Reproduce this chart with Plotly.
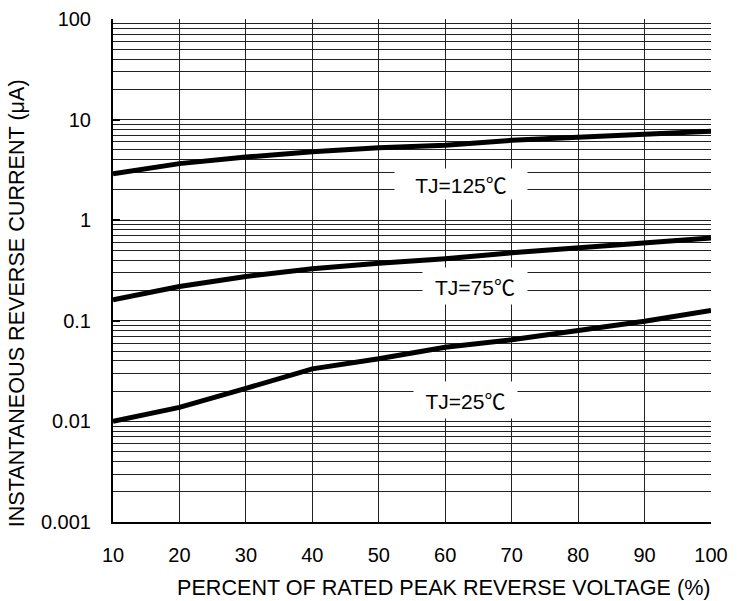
import plotly.graph_objects as go

# Data
voltage_pct = [10, 20, 30, 40, 50, 60, 70, 80, 90, 100]
ir_125 = [2.90, 3.65, 4.24, 4.80, 5.26, 5.55, 6.22, 6.71, 7.26, 7.65]
ir_75 = [0.162, 0.219, 0.276, 0.329, 0.374, 0.414, 0.474, 0.532, 0.592, 0.664]
ir_25 = [0.0100, 0.0138, 0.0213, 0.0333, 0.0419, 0.0546, 0.0647, 0.080, 0.099, 0.127]

y_major_vals = [0.001, 0.01, 0.1, 1, 10, 100]
y_major_text = ["0.001", "0.01", "0.1", "1", "10", "100"]
y_minor_vals = [m * d for d in [0.001, 0.01, 0.1, 1, 10] for m in range(2, 10)]
x_tick_vals = [10, 20, 30, 40, 50, 60, 70, 80, 90, 100]

labels = ["TJ=125", "TJ=75", "TJ=25"]
label_x = [62.4, 64.5, 63.0]
label_logy = [0.36, -0.65, -1.79]
label_w = [130, 102, 101]
label_h = [28, 34, 34]

x_title = "PERCENT OF RATED PEAK REVERSE VOLTAGE (%)"
y_title = "INSTANTANEOUS REVERSE CURRENT (μA)"

FONT = "Liberation Sans, Arial, Noto Sans CJK SC, sans-serif"
DEG = '<span style="font-family:\'Noto Sans CJK SC\'">℃</span>'

fig = go.Figure()
for ys in (ir_125, ir_75, ir_25):
    fig.add_trace(go.Scatter(x=voltage_pct, y=ys, mode="lines",
                             line=dict(color="black", width=5),
                             showlegend=False, hoverinfo="skip"))

for t, x, y, w, h in zip(labels, label_x, label_logy, label_w, label_h):
    fig.add_annotation(x=x, y=y, xref="x", yref="y", text=t + DEG, showarrow=False,
                       bgcolor="white", width=w, height=h,
                       font=dict(family=FONT, size=21, color="black"))

# axis titles as annotations (offset like the original)
fig.add_annotation(text=x_title, xref="paper", yref="paper", x=0.5535, y=-0.13,
                   xanchor="center", yanchor="middle", showarrow=False,
                   font=dict(family=FONT, size=21.6, color="black"))
fig.add_annotation(text=y_title, xref="paper", yref="paper", x=-0.162, y=0.435,
                   xanchor="center", yanchor="middle", showarrow=False, textangle=-90,
                   font=dict(family=FONT, size=21.6, color="black"))

fig.update_layout(
    template="none",
    width=746, height=601,
    margin=dict(l=113, r=35, t=19, b=79, pad=0),
    plot_bgcolor="white", paper_bgcolor="white",
    font=dict(family=FONT, size=20, color="black"),
)
fig.update_xaxes(
    range=[10, 100], tickvals=x_tick_vals, automargin=False,
    showgrid=True, gridcolor="#222", gridwidth=1,
    showline=True, linecolor="black", linewidth=2,
    ticks="", ticklabelstandoff=14,
    tickfont=dict(size=20),
    zeroline=False,
)
fig.update_yaxes(
    type="log", range=[-3, 2], automargin=False,
    tickvals=y_major_vals, ticktext=y_major_text,
    showgrid=True, gridcolor="#222", gridwidth=1,
    showline=True, linecolor="black", linewidth=2,
    ticks="inside", ticklen=7, tickwidth=2, tickcolor="black",
    ticklabelstandoff=16,
    tickfont=dict(size=20),
    minor=dict(tickvals=y_minor_vals, showgrid=True, gridcolor="#222",
               gridwidth=1, ticks=""),
    zeroline=False,
)

fig.write_html("out.html", config={"displayModeBar": False},
               post_script="document.body.style.margin='0';")
